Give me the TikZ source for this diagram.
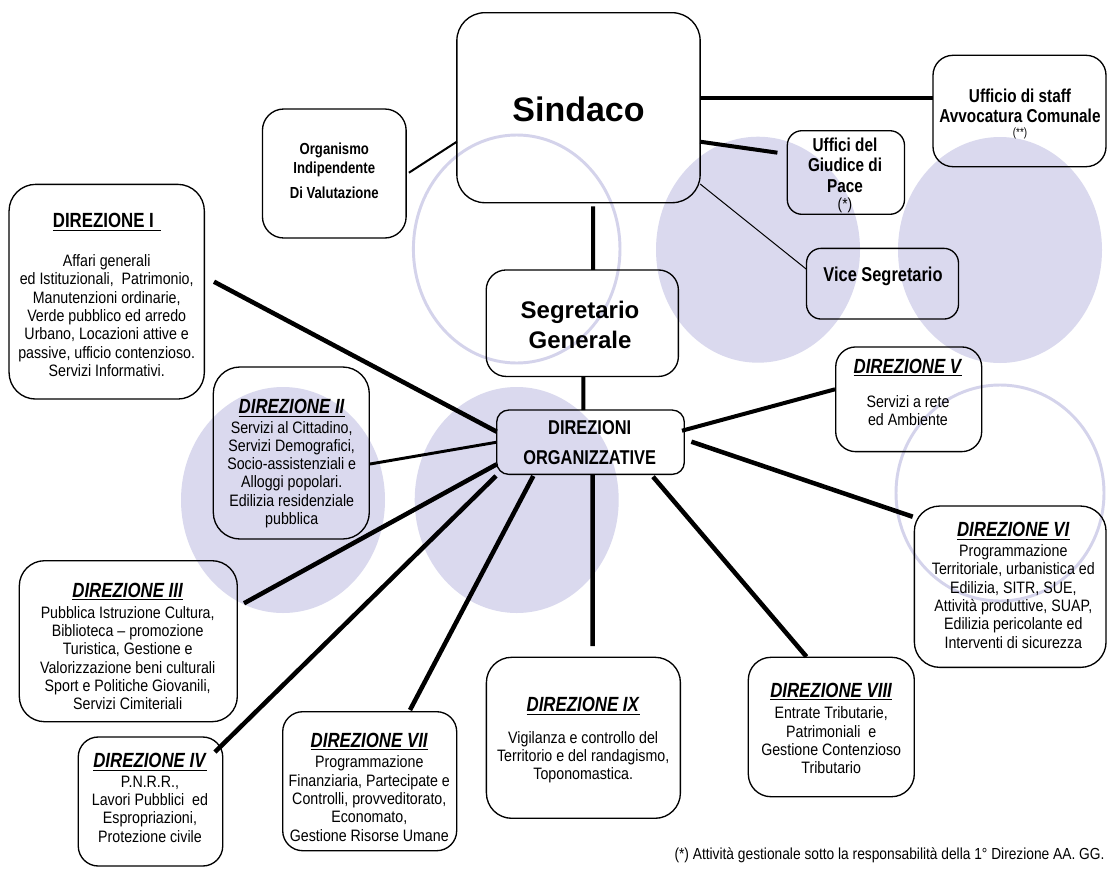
\documentclass[tikz,border=0pt]{standalone}
\usepackage{fontspec}
\setmainfont{Liberation Sans}
\newfontfamily\nar{Liberation Sans}[FakeStretch=0.82]
\newfontfamily\narb{Liberation Sans}[FakeStretch=0.86]
\usetikzlibrary{calc}
\definecolor{lavfill}{RGB}{218,217,238}
\definecolor{lavline}{RGB}{212,211,235}
\newcommand{\dirtitle}[1]{\underline{\textbf{\textit{#1}}}}
\tikzset{
  bx/.style={draw=black, line width=1pt, inner sep=0pt, outer sep=0pt, rectangle},
  sz/.style 2 args={minimum width=#1*0.75, minimum height=#2*0.75},
  tx/.style={inner sep=0pt, outer sep=0pt, align=center},
  body/.style={tx, font=\narb\fontsize{12.4}{13.725}\selectfont},
  ttl/.style={tx, font=\nar\fontsize{15.4}{18}\selectfont},
  hd/.style={tx, font=\nar\fontsize{14}{15.4}\selectfont\bfseries},
  wthick/.style={line width=3.4pt},
  wmid/.style={line width=3pt},
  wmed/.style={line width=2.2pt},
  wlight/.style={line width=1.5pt},
  wthin/.style={line width=0.75pt},
  ring/.style={draw=lavline, line width=2.2pt},
  disc/.style={fill=lavfill},
}
\begin{document}
\begin{tikzpicture}[x=0.75pt,y=-0.75pt]
\useasboundingbox (0,0) rectangle (1107,868);
\fill[white] (0,0) rectangle (1107,868);
% background circles
\fill[disc] (758,249.7) ellipse [x radius=102, y radius=113];
\fill[disc] (1000,250) ellipse [x radius=102, y radius=113];
\fill[disc] (283,500) ellipse [x radius=102, y radius=113];
\fill[disc] (516.7,500) ellipse [x radius=102, y radius=113];
\draw[ring] (516.7,249) ellipse [x radius=103.3, y radius=114];
\draw[ring] (1000,493) ellipse [x radius=104, y radius=108];
% boxes
\node[bx, sz={243.3}{190}, rounded corners=21pt] (sindaco) at (578.5,107.7) {};
\node[bx, sz={143.7}{129}, rounded corners=16pt] (oiv) at (334.3,173.5) {};
\node[bx, sz={173}{111.4}, rounded corners=15pt] (staff) at (1019.5,111) {};
\node[bx, sz={117.2}{83.6}, rounded corners=11pt] (gdp) at (845.9,172.5) {};
\node[bx, sz={152}{70.7}, rounded corners=11pt] (vice) at (882.5,283.7) {};
\node[bx, sz={195.3}{214.7}, rounded corners=20pt] (d1) at (106.7,291.7) {};
\node[bx, sz={192.2}{106.5}, rounded corners=15pt] (segr) at (582.3,323.2) {};
\node[bx, sz={187.6}{64.3}, rounded corners=9pt] (do) at (590.5,442.2) {};
\node[bx, sz={156}{172}, rounded corners=20pt] (d2) at (291.3,453) {};
\node[bx, sz={218}{161}, rounded corners=19pt] (d3) at (128.3,641.2) {};
\node[bx, sz={144.5}{129}, rounded corners=15pt] (d4) at (150.5,801.5) {};
\node[bx, sz={174}{139}, rounded corners=15pt] (d7) at (369.7,781.2) {};
\node[bx, sz={194}{161}, rounded corners=19pt] (d9) at (583.4,737.8) {};
\node[bx, sz={166}{139.4}, rounded corners=17pt] (d8) at (831.3,727) {};
\node[bx, sz={191.7}{161.3}, rounded corners=19pt] (d6) at (1010.2,586.7) {};
\node[bx, sz={146}{104.7}, rounded corners=15pt] (d5) at (908.7,399.3) {};
% connectors
\draw[wlight] ($(oiv.east)+(2.8,-0.8)$) -- ($(sindaco.west)+(0,34)$);
\draw[wmid] ($(sindaco.east)+(0,-9.4)$) -- ($(staff.west)+(0,-12.7)$);
\draw[wmid] ($(sindaco.east)+(0,34)$) -- ($(gdp.west)+(-9.9,-19.8)$);
\draw[wthin] ($(sindaco.east)+(0,76.3)$) -- ($(vice.west)+(0,-14.4)$);
\draw[wmid] ($(sindaco.south)+(14.5,3.6)$) -- ($(segr.north)+(10.7,0)$);
\draw[wmid] ($(segr.south)+(1,0)$) -- ($(do.north)+(-7.2,0)$);
\draw[wthick] ($(d1.east)+(9.65,-10)$) -- ($(do.west)+(0,-10.5)$);
\draw[wmed] ($(d2.east)+(0.7,11)$) -- (do.west);
\draw[wthick] ($(d3.east)+(6.7,-37.9)$) -- ($(do.west)+(0,22.1)$);
\draw[wthick] ($(do.south west)+(-0.7,1.6)$) -- ($(d4.north east)+(-7.8,15)$);
\draw[wthick] ($(do.south west)+(36.6,1.6)$) -- ($(d7.north)+(40.3,-1.7)$);
\draw[wthick] ($(do.south)+(2.2,0)$) -- ($(d9.north)+(9.3,-11.3)$);
\draw[wthick] ($(do.south)+(62.5,2.35)$) -- ($(d8.north)+(-24.8,-0.6)$);
\draw[wmid] ($(do.east)+(-2.3,-11.5)$) -- ($(d5.west)+(-0.7,-10)$);
\draw[wthick] ($(do.east)+(7.1,-0.5)$) -- ($(d6.west)+(-1.65,-70)$);
% texts
\node[tx, font=\fontsize{25.5}{28}\selectfont\bfseries] (sindacoT) at (578.5,109) {Sindaco};
\node[tx, font=\nar\fontsize{12}{14.25}\selectfont\bfseries] (oivT) at (334.3,171) {Organismo\\Indipendente\\[4.3pt]Di Valutazione};
\node[hd] (staffT) at (1020,106) {Ufficio di staff\\Avvocatura Comunale};
\node[tx, font=\nar\fontsize{9}{10}\selectfont] (staffN) at (1020,133.3) {(**)};
\node[hd, font=\nar\fontsize{14}{15.4}\selectfont\bfseries] (gdpT) at (845,165) {Uffici del\\Giudice di\\Pace};
\node[tx, font=\narb\fontsize{12}{14}\selectfont] (gdpN) at (845,205) {(*)};
\node[tx, font=\nar\fontsize{15}{18}\selectfont\bfseries] (viceT) at (883,276) {Vice Segretario};
\node[tx, font=\fontsize{18}{22.5}\selectfont\bfseries] (segrT) at (580,325) {Segretario\\Generale};
\node[tx, font=\nar\fontsize{15}{22.2}\selectfont\bfseries] (doT) at (589.7,442.5) {DIREZIONI\\ORGANIZZATIVE};
% direzione I
\node[ttl] (d1t) at (107,222) {\underline{\textbf{DIREZIONE I\hspace{0.35em}}}};
\node[body] (d1b) at (106.7,315.5) {Affari generali\\ed Istituzionali,\ \ Patrimonio,\\Manutenzioni ordinarie,\\Verde pubblico ed arredo\\Urbano, Locazioni attive e\\passive, ufficio contenzioso.\\Servizi Informativi.};
% direzione II
\node[ttl] (d2t) at (291.7,408) {\dirtitle{DIREZIONE II}};
\node[body] (d2b) at (291.7,474.5) {Servizi al Cittadino,\\Servizi Demografici,\\Socio-assistenziali e\\Alloggi popolari.\\Edilizia residenziale\\pubblica};
% direzione III
\node[ttl] (d3t) at (127.7,591.5) {\dirtitle{DIREZIONE III}};
\node[body] (d3b) at (127.7,658) {Pubblica Istruzione Cultura,\\Biblioteca – promozione\\Turistica, Gestione e\\Valorizzazione beni culturali\\Sport e Politiche Giovanili,\\Servizi Cimiteriali};
% direzione IV
\node[ttl] (d4t) at (150,762) {\dirtitle{DIREZIONE IV}};
\node[body] (d4b) at (150,809) {P.N.R.R.,\\Lavori Pubblici\ \ ed\\Espropriazioni,\\Protezione civile};
% direzione VII
\node[ttl] (d7t) at (369.3,741.5) {\dirtitle{DIREZIONE VII}};
\node[body] (d7b) at (369.3,798.5) {Programmazione\\Finanziaria, Partecipate e\\Controlli, provveditorato,\\Economato,\\Gestione Risorse Umane};
% direzione IX
\node[ttl] (d9t) at (583.2,706) {\dirtitle{DIREZIONE IX}};
\node[body] (d9b) at (583.2,757.3) {Vigilanza e controllo del\\Territorio e del randagismo,\\Toponomastica.};
% direzione VIII
\node[ttl] (d8t) at (831.2,691.5) {\dirtitle{DIREZIONE VIII}};
\node[body] (d8b) at (831.2,740.5) {Entrate Tributarie,\\Patrimoniali\ \ e\\Gestione Contenzioso\\Tributario};
% direzione VI
\node[ttl] (d6t) at (1013.3,531) {\dirtitle{DIREZIONE VI}};
\node[body] (d6b) at (1013.3,596.5) {Programmazione\\Territoriale, urbanistica ed\\Edilizia, SITR, SUE,\\Attività produttive, SUAP,\\Edilizia pericolante ed\\Interventi di sicurezza};
% direzione V
\node[ttl] (d5t) at (908,367.5) {\dirtitle{DIREZIONE V}};
\node[body] (d5b) at (908,410.5) {Servizi a rete\\ed Ambiente};
% footnote
\node[tx, anchor=east, font=\narb\fontsize{12}{14}\selectfont] (foot) at (1104.5,855) {(*) Attività gestionale sotto la responsabilità della 1° Direzione AA. GG.};
\end{tikzpicture}
\end{document}
